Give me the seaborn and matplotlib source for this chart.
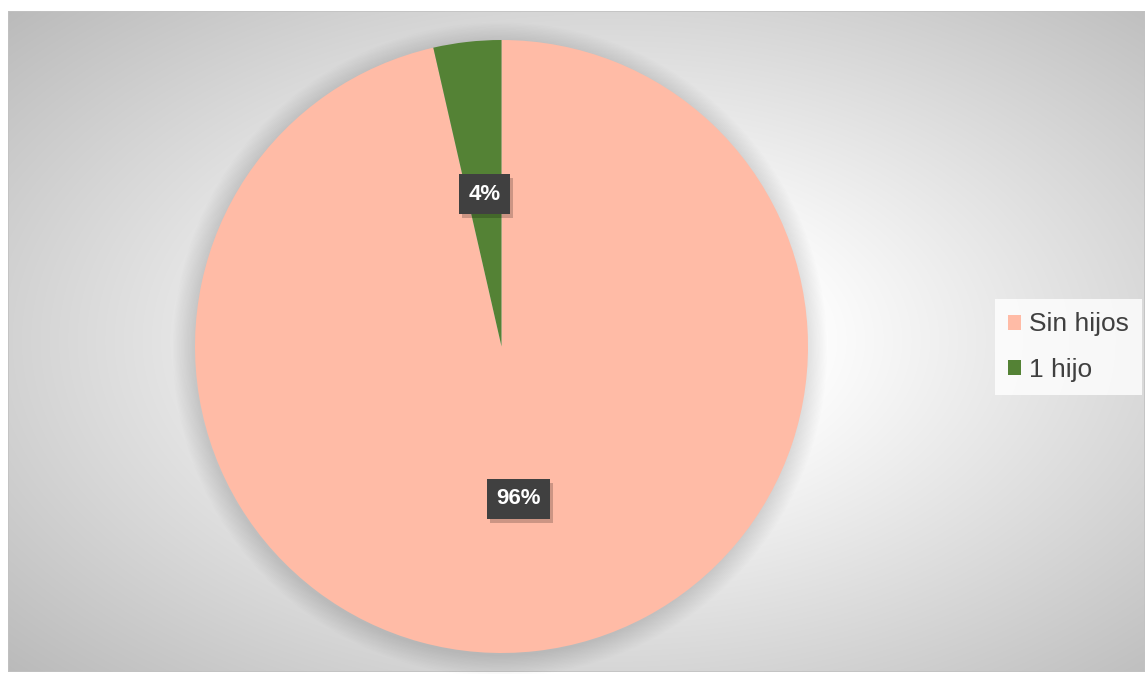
import numpy as np
import matplotlib
matplotlib.use("Agg")
import matplotlib.pyplot as plt
from matplotlib.patches import Circle, Rectangle, Patch
from matplotlib.transforms import IdentityTransform
import seaborn as sns

# ---- data ----
categories = ["Sin hijos", "1 hijo"]
values = [27, 1]
pct_labels = ["96%", "4%"]
colors = ["#FFBBA6", "#548235"]

sns.set_theme(style="white")
plt.rcParams['font.family'] = ['Liberation Sans', 'DejaVu Sans']

W, H = 1145, 674
fig = plt.figure(figsize=(W / 100, H / 100), dpi=100)
fig.patch.set_facecolor("white")

# ---- chart-area background (radial gradient) ----
x0, y0, x1, y1 = 8, 11, 1145, 672  # pixel box (top-left origin)
bgax = fig.add_axes([x0 / W, (H - y1) / H, (x1 - x0) / W, (y1 - y0) / H])
bgax.set_axis_off()
nx, ny = x1 - x0, y1 - y0
xx, yy = np.meshgrid(np.arange(nx) + x0, np.arange(ny) + y0)
cx, cy = 610, 340
r = np.sqrt(((xx - cx) / 575.0) ** 2 + ((yy - cy) / 335.0) ** 2)
v = 255 - 62 * np.clip(r - 0.33, 0, None)
v = np.clip(v, 0, 255) / 255.0
img = np.dstack([v, v, v])
bgax.imshow(img, extent=[0, 1, 0, 1], aspect="auto", interpolation="bilinear")
bgax.add_patch(Rectangle((0, 0), 1, 1, transform=bgax.transAxes, fill=False,
                         edgecolor="#c2c2c2", linewidth=1.2))

# ---- pie ----
pcx, pcy, pr = 501.5, 346.5, 306.5
ax = fig.add_axes([(pcx - pr) / W, (H - pcy - pr) / H, 2 * pr / W, 2 * pr / H])

wedges, _ = ax.pie(values, colors=colors, startangle=90, counterclock=False,
                   radius=1.0, wedgeprops=dict(linewidth=0, zorder=2))
ax.set_xlim(-1, 1)
ax.set_ylim(-1, 1)
ax.set_aspect("equal")
ax.set_axis_off()

# soft shadow
for i in range(16):
    ax.add_patch(Circle((-0.005, -0.01), 1.0 + i * 0.0045, facecolor="black",
                        alpha=0.006, edgecolor="none", zorder=0, clip_on=False))

total = sum(values)
start = 90.0
label_texts = []
for w, lab in zip(values, pct_labels):
    ang = start - 360.0 * w / total / 2
    start -= 360.0 * w / total
    tx = 0.5 * np.cos(np.radians(ang))
    ty = 0.5 * np.sin(np.radians(ang))
    t = ax.text(tx, ty, lab, ha="center", va="center", fontsize=16,
                fontweight="bold", color="white",
                bbox=dict(boxstyle="square,pad=0.42", facecolor="#404040",
                          edgecolor="none"), zorder=4)
    label_texts.append(t)

# ---- legend ----
handles = [Patch(facecolor=c, edgecolor="none") for c in colors]
leg = fig.legend(handles, categories, loc="center left",
                 bbox_to_anchor=(995 / W, (H - 347) / H),
                 frameon=True, fontsize=19, handlelength=0.5, handleheight=0.5,
                 handletextpad=0.3, labelspacing=0.8, borderpad=0.5,
                 borderaxespad=0, fancybox=False, labelcolor="#404040")
leg.get_frame().set_facecolor((1, 1, 1, 0.35))
leg.get_frame().set_edgecolor("none")

# label box shadows (plain rectangles behind the boxes)
fig.canvas.draw()
for t in label_texts:
    bb = t.get_bbox_patch().get_window_extent()
    shadow = Rectangle((bb.x0 + 3, bb.y0 - 4), bb.width, bb.height,
                       transform=IdentityTransform(), facecolor="black",
                       alpha=0.2, edgecolor="none", zorder=3, clip_on=False)
    ax.add_artist(shadow)

fig.savefig("out.png", dpi=100, facecolor="white")
